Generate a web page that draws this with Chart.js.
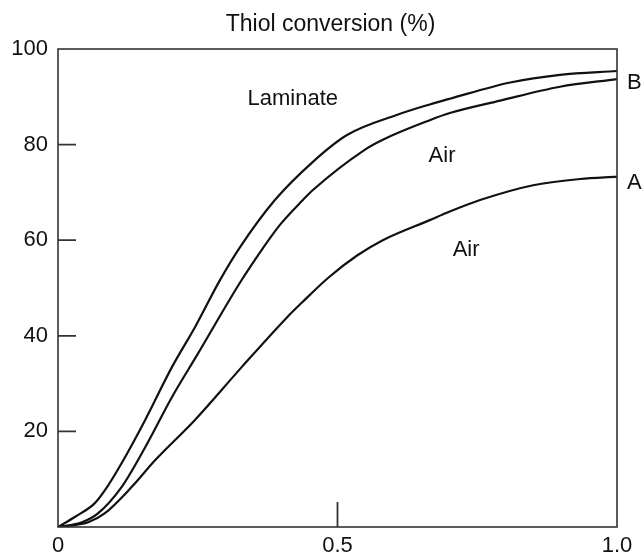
<!DOCTYPE html>
<html>
<head>
<meta charset="utf-8">
<script src="https://cdn.jsdelivr.net/npm/chart.js@4/dist/chart.umd.min.js"></script>
<style>
html,body{margin:0;padding:0;background:#fff;}
#wrap{width:643px;height:554px;}
</style>
</head>
<body>
<div id="wrap"><canvas id="c" width="643" height="554"></canvas></div>
<script>
// ---- data ----
const laminateX = [0, 0.030, 0.066, 0.084, 0.114, 0.156, 0.204, 0.245, 0.290, 0.326, 0.388, 0.456, 0.517, 0.606, 0.665, 0.701, 0.809, 0.898, 1.0];
const laminateY = [0, 2.1, 5.0, 7.7, 13.4, 22.4, 33.5, 41.8, 51.7, 58.6, 68.4, 76.4, 82.0, 86.2, 88.4, 89.6, 93.0, 94.6, 95.4];

const airBX = [0, 0.043, 0.072, 0.114, 0.156, 0.204, 0.249, 0.326, 0.367, 0.397, 0.438, 0.456, 0.546, 0.581, 0.665, 0.701, 0.791, 0.898, 1.0];
const airBY = [0, 1.0, 2.9, 8.4, 16.7, 27.2, 36.0, 51.2, 58.4, 63.2, 68.4, 70.5, 78.7, 81.0, 85.1, 86.6, 89.2, 92.1, 93.7];

const airAX = [0, 0.054, 0.084, 0.132, 0.174, 0.245, 0.329, 0.410, 0.436, 0.483, 0.535, 0.581, 0.665, 0.701, 0.755, 0.850, 0.934, 1.0];
const airAY = [0, 1.0, 2.9, 8.4, 14.0, 22.4, 33.5, 43.9, 46.9, 52.1, 56.8, 60.0, 64.2, 66.0, 68.4, 71.5, 72.8, 73.3];

const xTickValues = [0, 0.5, 1.0];
const xTickLabels = ['0', '0.5', '1.0'];
const yTickValues = [0, 20, 40, 60, 80, 100];
const yTickLabels = ['', '20', '40', '60', '80', '100'];

const titleText = 'Thiol conversion (%)';

// curve labels (text, x, y in data units)
const labelTexts = ['Laminate', 'Air', 'Air'];
const labelX = [0.420, 0.687, 0.730];
const labelY = [89.5, 77.6, 57.9];
// end labels placed just right of the frame
const endTexts = ['B', 'A'];
const endY = [92.9, 72.0];

// inner tick marks
const yInnerTicks = [20, 40, 60, 80];
const xInnerTicks = [0.5];

const FONT = '"Liberation Sans", Arial, Helvetica, sans-serif';
const FS = 22;

function pts(xs, ys) { return xs.map((x, i) => ({x: x, y: ys[i]})); }

const framePlugin = {
  id: 'frame',
  afterDraw(chart) {
    const {ctx, chartArea: a, scales} = chart;
    ctx.save();
    ctx.strokeStyle = '#333';
    ctx.lineWidth = 1.6;
    ctx.strokeRect(a.left, a.top, a.right - a.left, a.bottom - a.top);
    // inward ticks
    ctx.lineWidth = 1.8;
    ctx.beginPath();
    yInnerTicks.forEach(v => {
      const y = scales.y.getPixelForValue(v);
      ctx.moveTo(a.left, y);
      ctx.lineTo(a.left + 18, y);
    });
    xInnerTicks.forEach(v => {
      const x = scales.x.getPixelForValue(v);
      ctx.moveTo(x, a.bottom);
      ctx.lineTo(x, a.bottom - 25);
    });
    ctx.stroke();
    ctx.fillStyle = '#111';
    ctx.textBaseline = 'middle';
    // title, centred over the frame (slightly left as in the source)
    ctx.font = '23px ' + FONT;
    ctx.textAlign = 'center';
    ctx.fillText(titleText, (a.left + a.right) / 2 - 7, a.top - 24);
    // text labels
    ctx.font = FS + 'px ' + FONT;
    labelTexts.forEach((t, i) => {
      ctx.fillText(t, scales.x.getPixelForValue(labelX[i]), scales.y.getPixelForValue(labelY[i]));
    });
    ctx.textAlign = 'left';
    endTexts.forEach((t, i) => {
      ctx.fillText(t, a.right + 10, scales.y.getPixelForValue(endY[i]));
    });
    ctx.restore();
  }
};

const lineStyle = {
  borderColor: '#111',
  borderWidth: 2.2,
  pointRadius: 0,
  fill: false,
  cubicInterpolationMode: 'monotone',
  tension: 0.4
};

new Chart(document.getElementById('c'), {
  type: 'line',
  data: {
    datasets: [
      Object.assign({label: 'Laminate', data: pts(laminateX, laminateY)}, lineStyle),
      Object.assign({label: 'Air B', data: pts(airBX, airBY)}, lineStyle),
      Object.assign({label: 'Air A', data: pts(airAX, airAY)}, lineStyle)
    ]
  },
  options: {
    responsive: false,
    animation: false,
    devicePixelRatio: 1,
    layout: {padding: {left: 0, right: 26, top: 49, bottom: 0}},
    plugins: {
      legend: {display: false},
      tooltip: {enabled: false},
      title: {display: false}
    },
    scales: {
      x: {
        type: 'linear',
        min: 0, max: 1,
        grid: {display: false, drawTicks: false},
        border: {display: false},
        afterBuildTicks(s) { s.ticks = xTickValues.map(v => ({value: v})); },
        afterFit(s) { s.height = 27; },
        ticks: {
          color: '#111',
          padding: 6,
          maxRotation: 0,
          font: {family: FONT, size: FS},
          callback(v) { const i = xTickValues.indexOf(v); return i >= 0 ? xTickLabels[i] : ''; }
        }
      },
      y: {
        type: 'linear',
        min: 0, max: 100,
        grid: {display: false, drawTicks: false},
        border: {display: false},
        afterBuildTicks(s) { s.ticks = yTickValues.map(v => ({value: v})); },
        afterFit(s) { s.width = 58; },
        ticks: {
          color: '#111',
          padding: 10,
          font: {family: FONT, size: FS},
          callback(v) { const i = yTickValues.indexOf(v); return i >= 0 ? yTickLabels[i] : ''; }
        }
      }
    }
  },
  plugins: [framePlugin]
});
</script>
</body>
</html>
